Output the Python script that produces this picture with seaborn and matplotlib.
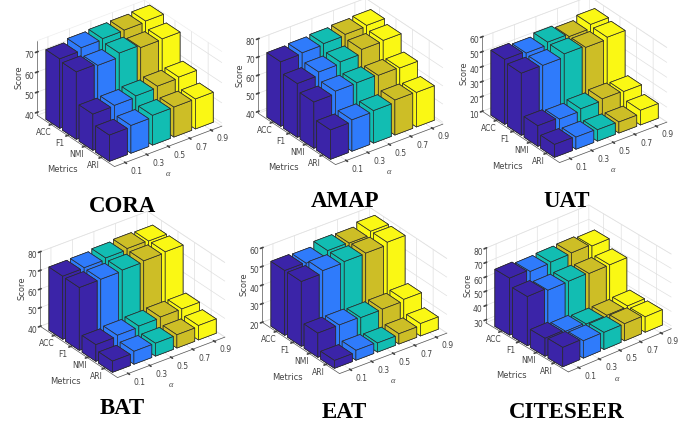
import numpy as np
import matplotlib
matplotlib.use("Agg")
import matplotlib.pyplot as plt
import seaborn as sns

# values, rows follow metrics, columns follow alphas
metrics = ["ACC", "F1", "NMI", "ARI"]
alphas = ["0.1", "0.3", "0.5", "0.7", "0.9"]
bar_colors = ["#3B24A8", "#2F7BFB", "#12BDB2", "#CDBE26", "#FAF814"]

cora = [[73, 74.5, 75, 75.2, 75.7], [72, 71.2, 73.3, 72, 72.3], [56.5, 56.8, 57.5, 58.3, 58.8], [51.5, 52.3, 53.3, 53.4, 53.4]]
amap = [[74.5, 75, 75.6, 76.2, 76.7], [68.6, 70.5, 71.6, 74, 74.5], [64.5, 66, 66.2, 65.8, 65.4], [55.2, 56.3, 56.9, 58.3, 58]]
uat = [[53.6, 52.4, 54.3, 52.6, 55.3], [51.7, 51.5, 53.8, 52.7, 54.1], [23.8, 22.8, 24.3, 25.5, 25], [18.6, 18.1, 17.6, 17.4, 19.8]]
bat = [[73.9, 74.1, 75, 75.7, 75.4], [73.7, 73.8, 74.4, 75, 75.5], [48.9, 49.6, 50.2, 50.7, 50.7], [46, 46.9, 46.9, 47.1, 47.7]]
eat = [[54.8, 54.4, 56.8, 56.5, 58.5], [54.8, 56.3, 56.8, 57, 58.5], [33, 33, 32.6, 32.8, 33.7], [24.2, 25.3, 24.9, 25.5, 26.6]]
citeseer = [[67.8, 66.4, 66.9, 67.3, 66.1], [62.3, 60.7, 60.9, 60.3, 60.3], [40.5, 39.3, 38.4, 38.4, 38.9], [41.5, 40.1, 39.9, 39.9, 38.7]]

sns.set_theme(style="white", rc={
    "grid.color": "#e0e0e0",
    "grid.linewidth": 0.5,
    "axes.edgecolor": "#555555",
    "axes.linewidth": 0.5,
    "xtick.color": "#444444",
    "ytick.color": "#444444",
    "text.color": "#444444",
    "axes.labelcolor": "#444444",
})
palette = sns.color_palette(bar_colors)

# title, scores, z limits, z ticks, box centre in pixels, azimuth, title centre
panels = [
    ("CORA", cora, (38.5, 75.5), [40, 50, 60, 70], (127, 86), -127, (122, 206)),
    ("AMAP", amap, (39, 80), [40, 50, 60, 70, 80], (348, 84), -127, (345, 202)),
    ("UAT", uat, (10, 60), [10, 20, 30, 40, 50, 60], (572, 82), -127, (567, 201)),
    ("BAT", bat, (40, 80), [40, 50, 60, 70, 80], (130, 297), -127, (122, 409)),
    ("EAT", eat, (20, 60), [20, 30, 40, 50, 60], (352, 293), -127, (344, 412)),
    ("CITESEER", citeseer, (28, 80), [30, 40, 50, 60, 70, 80], (576, 291), -130, (567, 412)),
]

W, H = 694, 426
AW, AH = 225, 190
fig = plt.figure(figsize=(W / 100, H / 100), dpi=100)

for title, scores, zlim, zticks, centre, azim, title_xy in panels:
    ax = fig.add_axes([(centre[0] - AW / 2) / W, 1 - (centre[1] + AH / 2) / H, AW / W, AH / H],
                      projection="3d", computed_zorder=False)
    ax.patch.set_alpha(0)
    ax.set_proj_type("ortho")
    ax.view_init(elev=30, azim=azim)
    ax.set_box_aspect((1, 0.955, 0.64), zoom=1.047)

    # ACC sits at the back, so draw from the back row to the front one
    order = 0
    for i in range(len(metrics)):
        ypos = len(metrics) - 1 - i
        for j in range(len(alphas) - 1, -1, -1):
            ax.bar3d(j - 0.415, ypos - 0.415, zlim[0], 0.83, 0.83, scores[i][j] - zlim[0],
                     color=palette[j], edgecolor="#2b2b2b", linewidth=0.5, shade=False,
                     zorder=5 + order)
            order += 1

    ax.set_xlim(-0.5, 4.5)
    ax.set_ylim(-0.83, 3.83)
    ax.set_zlim(*zlim)
    ax.set_xticks(range(len(alphas)))
    ax.set_xticklabels(alphas, ha="left", va="center")
    ax.set_yticks(range(len(metrics)))
    ax.set_yticklabels(metrics[::-1], va="center")
    ax.set_zticks(zticks)
    ax.tick_params(labelsize=5.5, pad=-3, length=2, width=0.4)
    ax.tick_params(axis="z", pad=-5)
    ax.zaxis.set_rotate_label(False)
    ax.set_zlabel("Score", fontsize=6, labelpad=-14, rotation=90)
    ax.zaxis.set_ticks_position("upper")
    ax.zaxis.set_label_position("upper")
    ax.grid(True)
    for axis in (ax.xaxis, ax.yaxis, ax.zaxis):
        axis.pane.set_facecolor((1, 1, 1, 0))
        axis.pane.set_edgecolor("#dddddd")
        axis.pane.set_linewidth(0.5)

    # axis names of the floor sit where the picture has them
    fig.text((centre[0] - 65) / W, 1 - (centre[1] + 84) / H, "Metrics",
             ha="center", va="center", fontsize=6)
    fig.text((centre[0] + 41) / W, 1 - (centre[1] + 88) / H, "α",
             ha="center", va="center", fontsize=6, family=["Liberation Serif"], style="italic")

    fig.text(title_xy[0] / W, 1 - title_xy[1] / H, title, ha="center", va="center",
             family=["Liberation Serif"], fontweight="bold", fontsize=16.5, color="black")

fig.savefig("out.png", dpi=100)
